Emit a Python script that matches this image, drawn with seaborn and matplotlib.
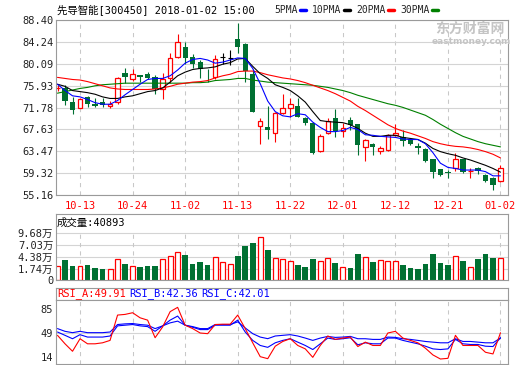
import numpy as np
import pandas as pd
import matplotlib
matplotlib.use("Agg")
import matplotlib.pyplot as plt
from matplotlib.lines import Line2D
import seaborn as sns

# trading days shown on the chart (2017-10-10 .. 2018-01-02)
dates = ['10-10', '10-11', '10-12', '10-13', '10-16', '10-17', '10-18', '10-19', '10-20', '10-23',
         '10-24', '10-25', '10-26', '10-27', '10-30', '10-31', '11-01', '11-02', '11-03', '11-06',
         '11-07', '11-08', '11-09', '11-10', '11-13', '11-14', '11-15', '11-16', '11-17', '11-20',
         '11-21', '11-22', '11-23', '11-24', '11-27', '11-28', '11-29', '11-30', '12-01', '12-04',
         '12-05', '12-06', '12-07', '12-08', '12-11', '12-12', '12-13', '12-14', '12-15', '12-18',
         '12-19', '12-20', '12-21', '12-22', '12-25', '12-26', '12-27', '12-28', '12-29', '01-02']
shown_dates = ['10-13', '10-24', '11-02', '11-13', '11-22', '12-01', '12-12', '12-21', '01-02']

opens = [75.4, 75.4, 72.9, 71.75, 73.8, 72.45, 72.8, 72.1, 72.85, 78.4,
         77.15, 77.95, 78.2, 77.6, 75.35, 77.45, 81.3, 83.35, 81.45, 80.45,
         78.95, 77.5, 81.3, 81.1, 84.8, 83.75, 78.15, 68.25, 68.15, 66.95,
         70.7, 71.7, 72.05, 69.85, 68.9, 63.45, 66.85, 69.85, 67.4, 69.4,
         68.65, 64.2, 64.9, 63.5, 63.65, 66.55, 66.25, 65.75, 64.5, 63.95,
         61.95, 60.05, 59.5, 60.2, 61.95, 59.65, 60.2, 59.05, 58.45, 57.8]
highs = [76.1, 76.1, 73.7, 73.65, 74.0, 73.65, 73.65, 73.0, 77.65, 79.35,
         79.15, 78.0, 78.6, 77.95, 78.3, 82.1, 85.75, 84.3, 81.95, 80.8,
         79.0, 81.7, 82.2, 82.7, 87.8, 84.1, 78.9, 69.85, 72.05, 70.9,
         74.3, 73.65, 73.55, 69.9, 68.95, 66.8, 69.85, 71.55, 68.9, 70.05,
         68.7, 65.75, 64.95, 64.4, 66.75, 68.65, 67.5, 65.9, 64.95, 64.15,
         62.0, 60.1, 59.9, 63.2, 62.0, 60.2, 60.4, 59.1, 58.5, 60.85]
lows = [74.9, 72.3, 70.5, 71.6, 71.8, 71.8, 71.9, 71.7, 72.45, 76.5,
        76.9, 76.55, 77.15, 74.3, 73.4, 76.5, 81.2, 80.0, 79.25, 77.35,
        76.7, 77.2, 80.05, 79.9, 82.1, 76.7, 70.85, 64.9, 65.75, 65.2,
        70.5, 70.05, 69.9, 68.5, 62.95, 63.3, 66.75, 66.25, 66.25, 67.5,
        62.75, 61.6, 62.85, 62.95, 63.6, 66.35, 64.5, 64.65, 62.95, 61.5,
        58.35, 58.75, 58.45, 59.75, 59.4, 58.3, 59.15, 57.7, 56.2, 57.7]
closes = [75.5, 73.0, 71.4, 73.45, 72.45, 72.15, 72.3, 72.4, 77.4, 77.65,
          78.15, 77.65, 77.45, 75.35, 77.25, 81.2, 84.25, 81.2, 80.0, 79.1,
          78.85, 81.0, 81.3, 81.1, 83.35, 78.8, 70.85, 69.2, 67.45, 70.75,
          71.65, 72.45, 70.05, 68.9, 63.2, 66.45, 69.2, 67.3, 67.9, 68.45,
          64.65, 65.6, 64.2, 64.0, 66.55, 67.0, 65.5, 64.8, 64.0, 61.65,
          59.45, 58.95, 59.4, 62.0, 59.6, 59.75, 59.7, 57.8, 57.15, 60.2]

ma5 = [76.2, 75.0, 74.0, 73.8, 73.3, 72.7, 72.4, 72.4, 73.1, 74.2,
       75.2, 76.2, 77.1, 77.3, 77.3, 77.8, 78.9, 80.2, 80.9, 81.1,
       80.8, 80.2, 80.4, 80.8, 81.2, 81.1, 79.2, 76.3, 73.0, 71.0,
       70.2, 70.0, 70.6, 70.4, 69.0, 68.0, 67.2, 67.2, 67.4, 68.0,
       67.6, 66.6, 66.5, 66.3, 66.2, 66.1, 65.8, 65.7, 65.7, 64.9,
       63.2, 61.2, 60.4, 60.2, 59.9, 59.9, 59.9, 59.6, 58.8, 58.8]
ma10 = [76.2, 75.8, 75.0, 74.8, 74.6, 74.3, 73.8, 73.5, 73.5, 73.8,
        74.0, 74.4, 74.8, 75.0, 75.5, 76.6, 77.8, 78.5, 79.0, 79.2,
        79.3, 79.5, 80.0, 80.3, 81.0, 81.1, 79.6, 78.2, 77.3, 76.1,
        75.6, 75.0, 74.0, 72.8, 71.0, 69.3, 69.1, 69.0, 68.9, 68.5,
        67.8, 66.9, 66.3, 66.3, 66.5, 66.5, 66.1, 65.9, 65.7, 65.0,
        64.0, 63.4, 63.0, 62.7, 62.2, 61.8, 61.3, 60.8, 60.2, 59.5]
ma20 = [77.5, 77.3, 77.1, 77.0, 76.7, 76.3, 75.9, 75.5, 75.3, 75.2,
        75.2, 75.2, 75.2, 75.3, 75.5, 75.8, 76.2, 76.4, 76.6, 76.7,
        76.9, 77.4, 77.8, 78.1, 78.6, 78.7, 78.7, 78.4, 78.0, 77.7,
        77.4, 77.2, 76.9, 76.5, 76.0, 75.5, 75.0, 74.4, 73.7, 73.0,
        72.0, 71.2, 70.3, 69.4, 68.5, 67.8, 67.3, 66.9, 66.4, 65.9,
        65.3, 64.9, 64.6, 64.4, 64.3, 64.1, 63.8, 63.4, 62.9, 62.2]
ma30 = [74.5, 74.8, 75.1, 75.4, 75.6, 75.9, 76.1, 76.2, 76.3, 76.4,
        76.4, 76.4, 76.4, 76.4, 76.4, 76.4, 76.4, 76.4, 76.5, 76.5,
        76.6, 76.9, 77.0, 77.1, 77.3, 77.3, 77.0, 76.8, 76.6, 76.5,
        76.4, 76.3, 76.2, 76.1, 76.0, 75.8, 75.6, 75.3, 75.0, 74.6,
        74.1, 73.7, 73.3, 72.9, 72.5, 72.2, 71.8, 71.3, 70.8, 70.3,
        69.5, 68.6, 67.8, 67.0, 66.3, 65.8, 65.3, 64.9, 64.6, 64.3]

# volume in 万 (10k shares)
volume = [2.41, 3.74, 2.41, 2.41, 2.63, 1.96, 1.74, 1.67, 3.89, 2.85,
          2.33, 2.18, 2.41, 2.41, 3.89, 4.56, 5.45, 4.85, 2.85, 3.30,
          2.63, 4.33, 3.22, 2.85, 4.63, 6.85, 7.52, 8.78, 5.96, 4.11,
          3.89, 3.44, 2.63, 2.18, 3.96, 3.44, 4.11, 3.07, 2.11, 1.96,
          5.07, 4.33, 3.30, 3.67, 3.44, 3.44, 2.63, 1.96, 1.74, 2.85,
          5.07, 3.07, 2.63, 4.56, 3.52, 2.11, 3.96, 5.07, 4.19, 4.09]
last_volume = 40893

rsi_a = [46.0, 33.3, 22.1, 40.9, 33.3, 33.3, 34.8, 38.4, 76.4, 77.4,
         79.9, 72.3, 68.8, 42.4, 58.6, 81.5, 88.0, 61.2, 56.1, 49.5,
         48.5, 62.2, 62.7, 62.7, 76.4, 56.1, 34.8, 14.0, 11.0, 29.7,
         36.8, 40.9, 30.8, 25.7, 13.0, 30.8, 45.0, 39.9, 41.9, 43.4,
         29.2, 35.8, 30.8, 30.8, 49.5, 52.0, 41.9, 38.4, 34.8, 26.7,
         16.6, 10.5, 11.5, 46.0, 30.8, 30.8, 30.8, 20.6, 18.1, 49.91]
rsi_b = [51.0, 46.0, 40.9, 47.0, 43.4, 43.4, 43.4, 45.0, 60.2, 61.2,
         62.2, 60.2, 59.1, 52.0, 60.2, 68.8, 74.9, 61.2, 58.1, 54.6,
         54.6, 61.2, 61.2, 61.2, 68.8, 51.0, 38.4, 30.8, 28.0, 34.8,
         38.4, 40.9, 35.8, 30.8, 24.7, 33.3, 41.9, 39.9, 40.9, 42.4,
         31.8, 34.8, 33.3, 33.3, 41.9, 41.9, 38.4, 35.8, 33.3, 29.7,
         25.7, 24.7, 25.7, 39.9, 33.3, 32.3, 32.3, 29.7, 29.2, 42.36]
rsi_c = [56.1, 52.0, 50.0, 52.0, 50.0, 50.0, 50.0, 51.0, 62.2, 63.2,
         63.7, 62.2, 61.2, 56.1, 60.2, 64.7, 67.3, 61.2, 59.1, 56.1,
         56.1, 62.2, 62.2, 62.2, 66.2, 57.1, 48.5, 43.4, 41.0, 45.0,
         46.0, 47.0, 45.0, 41.9, 38.4, 41.9, 44.4, 42.9, 43.4, 44.4,
         40.9, 40.9, 39.9, 39.9, 43.4, 42.9, 40.9, 39.9, 38.4, 36.8,
         35.8, 34.8, 34.8, 40.9, 36.8, 36.8, 35.8, 34.8, 34.8, 42.01]

price_ticks = [88.40, 84.24, 80.09, 75.93, 71.78, 67.63, 63.47, 59.32, 55.16]
vol_ticks = [1.74, 4.38, 7.03, 9.68]
rsi_ticks = [14, 49, 85]

RED = '#ff0000'
GREEN = '#007032'
BLUE = '#0000ff'
MAGREEN = '#008000'
BORDER = '#9a9a9a'
GRID = '#d4d4d4'
LABEL = '#222222'

sns.set_theme(style='white')
plt.rcParams['font.family'] = ['DejaVu Sans Mono', 'Noto Sans CJK SC']
plt.rcParams['font.size'] = 7.5
plt.rcParams['xtick.labelsize'] = 7.5
plt.rcParams['ytick.labelsize'] = 7.5

df = pd.DataFrame({'date': dates, 'open': opens, 'high': highs, 'low': lows, 'close': closes,
                   'ma5': ma5, 'ma10': ma10, 'ma20': ma20, 'ma30': ma30,
                   'vol': volume, 'rsi_a': rsi_a, 'rsi_b': rsi_b, 'rsi_c': rsi_c})
df['x'] = np.arange(len(df))
tick_pos = [dates.index(d) for d in shown_dates]

W, H = 520, 365
fig = plt.figure(figsize=(W / 100, H / 100), dpi=100)
fig.patch.set_facecolor('white')


def panel(x0, y0, x1, y1):
    ax = fig.add_axes([x0 / W, 1 - y1 / H, (x1 - x0) / W, (y1 - y0) / H])
    for s in ax.spines.values():
        s.set_color(BORDER)
        s.set_linewidth(0.8)
    ax.set_facecolor('white')
    ax.set_xlim(-0.2, 60.0)
    return ax


# ---------------- price panel ----------------
ax = panel(56, 20, 508, 195)
ax.set_ylim(55.16, 88.40)
ax.set_yticks(price_ticks)
ax.set_yticklabels(['%.2f' % p for p in price_ticks])
ax.yaxis.grid(True, color=GRID, lw=0.8)
ax.vlines(tick_pos, 55.16, 88.40, colors='#c8c8c8', linestyles=(0, (4, 4)), lw=0.75, zorder=0.5)
ax.set_xticks(tick_pos)
ax.set_xticklabels(shown_dates, color=RED)
ax.tick_params(axis='x', length=0, pad=4)
ax.tick_params(axis='y', length=0, pad=2, labelcolor=LABEL)

up = df[df.close > df.open]
down = df[df.close < df.open]
flat = df[df.close == df.open]
bw = 0.7

ax.vlines(down.x, down.low, down.high, colors=GREEN, lw=0.8, zorder=2)
ax.bar(down.x, down.open - down.close, bottom=down.close, width=bw, color=GREEN, lw=0, zorder=2)

ax.vlines(up.x, up.close, up.high, colors=RED, lw=0.8, zorder=2)
ax.vlines(up.x, up.low, up.open, colors=RED, lw=0.8, zorder=2)
ax.bar(up.x, up.close - up.open, bottom=up.open, width=bw - 0.1, facecolor='white',
       edgecolor=RED, lw=0.9, zorder=2)

ax.vlines(flat.x, flat.low, flat.high, colors='black', lw=0.8, zorder=2)
ax.hlines(flat.open, flat.x - bw / 2, flat.x + bw / 2, colors='black', lw=0.8, zorder=2)

for col, c in [('ma30', MAGREEN), ('ma20', RED), ('ma10', 'black'), ('ma5', BLUE)]:
    sns.lineplot(data=df, x='x', y=col, color=c, lw=0.8, ax=ax, zorder=3, legend=False)
ax.set_xlabel('')
ax.set_ylabel('')

# title + MA legend
fig.text(57 / W, 1 - 10 / H, '先导智能[300450] 2018-01-02 15:00', ha='left', va='center',
         color='black', fontsize=7.5)
handles = [Line2D([], [], color=c, lw=2.5) for c in [BLUE, 'black', RED, MAGREEN]]
fig.legend(handles, ['5PMA', '10PMA', '20PMA', '30PMA'], ncol=4, markerfirst=False,
           loc='center left', bbox_to_anchor=(274 / W, 1 - 10 / H), frameon=False,
           handlelength=0.6, handletextpad=0.3, columnspacing=0.6, borderpad=0,
           borderaxespad=0, fontsize=7)

# watermark
fig.text(470 / W, 1 - 29 / H, '东方财富网', ha='center', va='center', color='#c4c4c4',
         fontsize=10, fontweight='bold', family='Noto Sans CJK SC')
fig.text(471 / W, 1 - 41 / H, 'eastmoney.com', ha='center', va='center', color='#c4c4c4',
         fontsize=6.5, fontweight='bold', family='DejaVu Sans')

# ---------------- volume panel ----------------
vol_floor = -0.75
axv = panel(56, 214, 508, 280)
axv.set_ylim(vol_floor, 13.9)
axv.set_yticks([vol_floor] + vol_ticks)
axv.set_yticklabels(['0'] + ['%.2f万' % v for v in vol_ticks])
axv.tick_params(axis='y', length=0, pad=2, labelcolor=LABEL)
axv.set_xticks([])
axv.hlines(vol_ticks, -0.2, 60.0, colors=GRID, lw=0.8, zorder=0.5)
axv.vlines(tick_pos, vol_floor, vol_ticks[-1], colors='#c8c8c8', linestyles=(0, (4, 4)), lw=0.75, zorder=0.5)
vup = df[df.close >= df.open]
vdn = df[df.close < df.open]
axv.bar(vdn.x, vdn.vol - vol_floor, bottom=vol_floor, width=0.75, color=GREEN, lw=0, zorder=2)
axv.bar(vup.x, vup.vol - vol_floor, bottom=vol_floor, width=0.65, facecolor='white',
        edgecolor=RED, lw=0.9, zorder=2)
fig.text(57 / W, 1 - 223 / H, '成交量:%d' % last_volume, ha='left', va='center', color='black',
         fontsize=7.5)

# ---------------- RSI panel ----------------
axt = panel(56, 288, 508, 300)
axt.set_xticks([])
axt.set_yticks([])
fig.text(57 / W, 1 - 294 / H, 'RSI_A:%.2f' % rsi_a[-1], ha='left', va='center', color=RED, fontsize=7.5)
fig.text(129 / W, 1 - 294 / H, 'RSI_B:%.2f' % rsi_b[-1], ha='left', va='center', color=BLUE, fontsize=7.5)
fig.text(201 / W, 1 - 294 / H, 'RSI_C:%.2f' % rsi_c[-1], ha='left', va='center', color=BLUE, fontsize=7.5)

axr = panel(56, 300, 508, 364)
axr.set_ylim(3, 99)
axr.set_yticks(rsi_ticks)
axr.set_yticklabels([str(t) for t in rsi_ticks])
axr.tick_params(axis='y', length=0, pad=2, labelcolor=LABEL)
axr.set_xticks([])
axr.axhline(49, color=GRID, lw=0.8, zorder=0.5)
axr.vlines(tick_pos, 3, 99, colors='#c8c8c8', linestyles=(0, (4, 4)), lw=0.75, zorder=0.5)
for col, c in [('rsi_c', BLUE), ('rsi_b', BLUE), ('rsi_a', RED)]:
    sns.lineplot(data=df, x='x', y=col, color=c, lw=0.8, ax=axr, legend=False)
axr.set_xlabel('')
axr.set_ylabel('')

fig.savefig('out.png', dpi=100)
